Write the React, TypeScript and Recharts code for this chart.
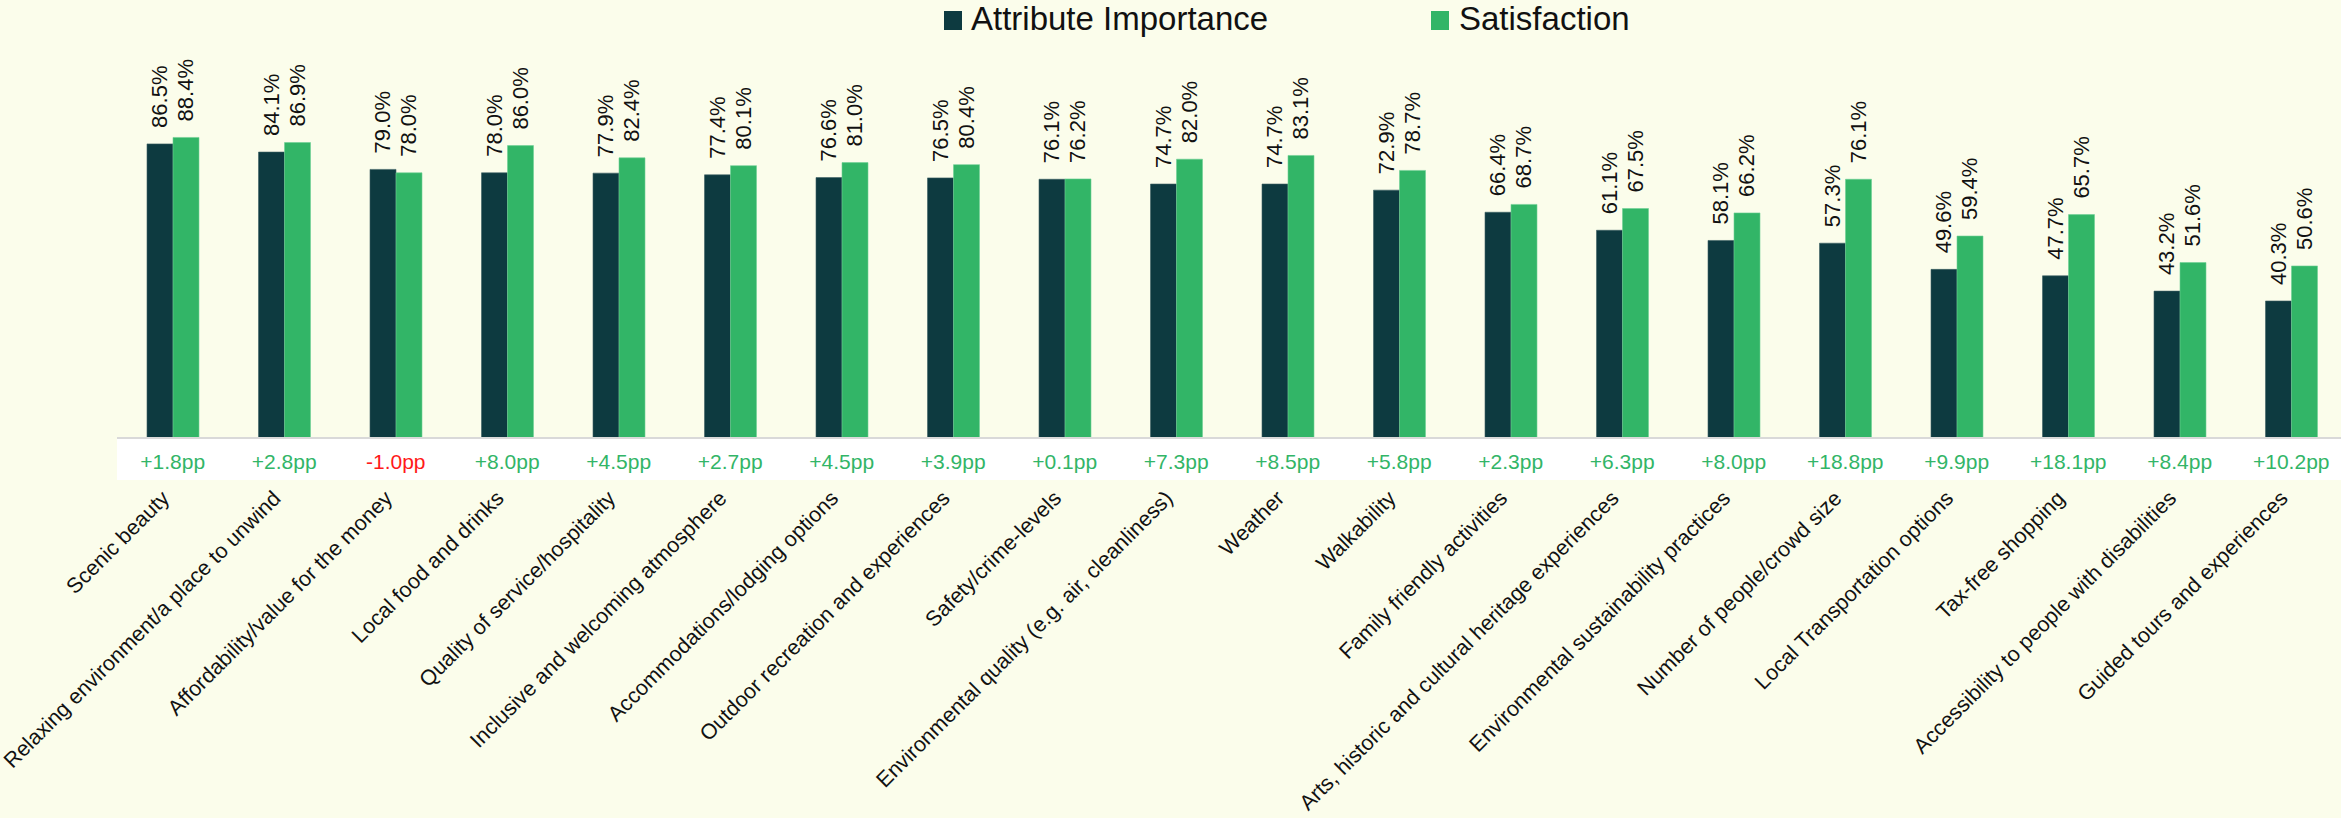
import React from 'react';
import { BarChart, Bar, XAxis, YAxis, LabelList } from 'recharts';

const categories = [
  'Scenic beauty',
  'Relaxing environment/a place to unwind',
  'Affordability/value for the money',
  'Local food and drinks',
  'Quality of service/hospitality',
  'Inclusive and welcoming atmosphere',
  'Accommodations/lodging options',
  'Outdoor recreation and experiences',
  'Safety/crime-levels',
  'Environmental quality (e.g. air, cleanliness)',
  'Weather',
  'Walkability',
  'Family friendly activities',
  'Arts, historic and cultural heritage experiences',
  'Environmental sustainability practices',
  'Number of people/crowd size',
  'Local Transportation options',
  'Tax-free shopping',
  'Accessibility to people with disabilities',
  'Guided tours and experiences',
];

const importance = [86.5, 84.1, 79.0, 78.0, 77.9, 77.4, 76.6, 76.5, 76.1, 74.7, 74.7, 72.9, 66.4, 61.1, 58.1, 57.3, 49.6, 47.7, 43.2, 40.3];
const satisfaction = [88.4, 86.9, 78.0, 86.0, 82.4, 80.1, 81.0, 80.4, 76.2, 82.0, 83.1, 78.7, 68.7, 67.5, 66.2, 76.1, 59.4, 65.7, 51.6, 50.6];
const gaps = [1.8, 2.8, -1.0, 8.0, 4.5, 2.7, 4.5, 3.9, 0.1, 7.3, 8.5, 5.8, 2.3, 6.3, 8.0, 18.8, 9.9, 18.1, 8.4, 10.2];

const DARK = '#0d3a40';
const GREEN = '#32b567';
const BG = '#fbfdeb';
const BAND = 111.5;
const FONT = "'Liberation Sans', Arial, sans-serif";

const data = categories.map((name, i) => ({
  name,
  importance: importance[i],
  satisfaction: satisfaction[i],
}));

const ValueLabel = (props: any) => {
  const { x, y, width, value } = props;
  const cx = x + width / 2;
  const ty = y - 16;
  return (
    <text
      x={cx}
      y={ty}
      transform={`rotate(-90, ${cx}, ${ty})`}
      textAnchor="start"
      dominantBaseline="central"
      fontFamily={FONT}
      fontSize={22}
      fill="#111"
    >
      {`${Number(value).toFixed(1)}%`}
    </text>
  );
};

const CategoryTick = (props: any) => {
  const { x, payload, index } = props;
  const axisY = 438;
  const gap = gaps[index];
  const txt = `${gap >= 0 ? '+' : ''}${gap.toFixed(1)}pp`;
  const ly = axisY + 51;
  const lx = x - 13;
  return (
    <g>
      <rect x={x - BAND / 2} y={axisY + 1} width={BAND + 1} height={41} fill="#ffffff" />
      <text
        x={x}
        y={axisY + 23}
        textAnchor="middle"
        dominantBaseline="central"
        fontFamily={FONT}
        fontSize={21}
        fill={gap < 0 ? '#ff1a1a' : GREEN}
      >
        {txt}
      </text>
      <text
        x={lx}
        y={ly}
        transform={`rotate(-45, ${lx}, ${ly})`}
        textAnchor="end"
        dominantBaseline="hanging"
        fontFamily={FONT}
        fontSize={21.5}
        fill="#111"
      >
        {payload.value}
      </text>
    </g>
  );
};

export default function App() {
  return (
    <div style={{ position: 'absolute', left: 0, top: 0, width: 2341, height: 818, background: BG, overflow: 'hidden' }}>
      <div style={{ position: 'absolute', left: 0, top: 0, width: 2341, height: 40, fontFamily: FONT, fontSize: 33, color: '#111' }}>
        <div style={{ position: 'absolute', left: 944, top: 11, width: 18, height: 19, background: DARK }} />
        <div style={{ position: 'absolute', left: 971, top: 0, lineHeight: '38px' }}>Attribute Importance</div>
        <div style={{ position: 'absolute', left: 1431, top: 11, width: 18, height: 19, background: GREEN }} />
        <div style={{ position: 'absolute', left: 1459, top: 0, lineHeight: '38px' }}>Satisfaction</div>
      </div>
      <BarChart
        width={2341}
        height={818}
        data={data}
        margin={{ top: 98, right: -6, bottom: 0, left: 117 }}
        barGap={0}
        barSize={26}
      >
        <YAxis hide domain={[0, 100]} />
        <XAxis
          dataKey="name"
          interval={0}
          height={380}
          tickLine={false}
          axisLine={{ stroke: '#d9d9d9', strokeWidth: 2 }}
          tick={<CategoryTick />}
        />
        <Bar dataKey="importance" fill={DARK} stroke="#3c5f63" strokeWidth={0.6} isAnimationActive={false}>
          <LabelList dataKey="importance" content={<ValueLabel />} />
        </Bar>
        <Bar dataKey="satisfaction" fill={GREEN} stroke="#6fd096" strokeWidth={0.6} isAnimationActive={false}>
          <LabelList dataKey="satisfaction" content={<ValueLabel />} />
        </Bar>
      </BarChart>
    </div>
  );
}
